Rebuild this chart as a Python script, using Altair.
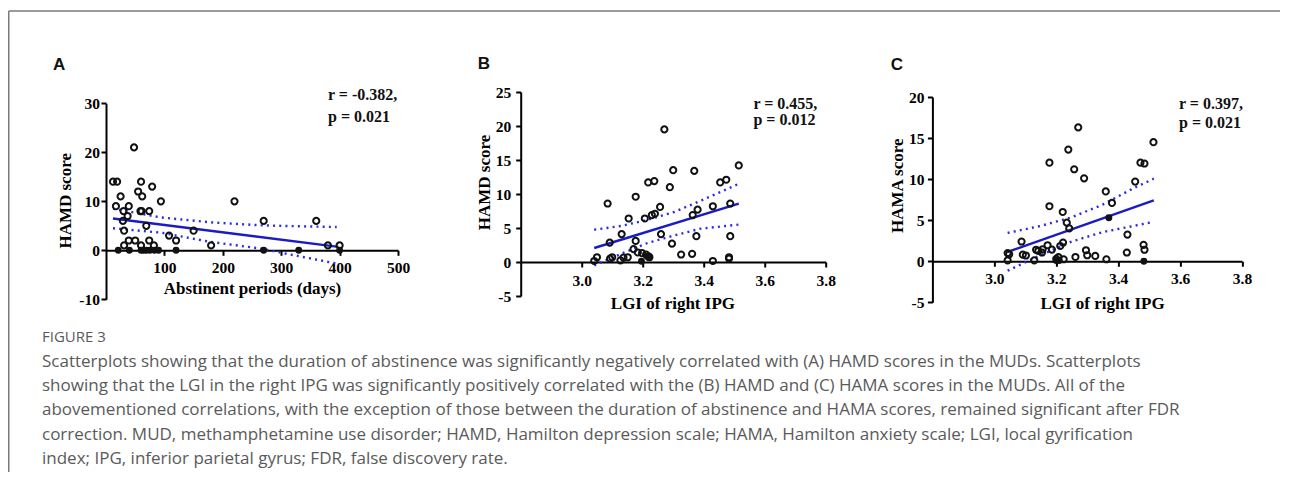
import altair as alt
import pandas as pd

SERIF = "Liberation Serif"
SANS = "Liberation Sans"
CAP_FONT = "Open Sans"

# ---------------- Panel A : abstinent periods vs HAMD ----------------
a_open_x = [12, 19, 17, 25, 30, 29, 31, 31, 37, 39, 39, 50, 48, 55, 60, 62, 59, 61, 69, 60,
            74, 74, 79, 82, 94, 108, 120, 150, 180, 220, 270, 360, 380, 400]
a_open_y = [14, 14, 9, 11, 8, 6, 4, 1, 7, 9, 2, 2, 21, 12, 14, 11, 8, 8, 5, 1,
            8, 2, 13, 1, 10, 3, 2, 4, 1, 10, 6, 6, 1, 1]
a_solid_x = [21, 40, 60, 64, 69, 75, 83, 90, 120, 270, 330, 400]
a_solid_y = [0, 0, 0, 0, 0, 0, 0, 0, 0, 0, 0, 0]
a_fit_x = [12, 398]
a_fit_y = [6.5, 0.7]
a_ci_x = [12, 94, 180, 265, 330, 395]
a_ci_up = [8.5, 6.7, 5.7, 5.1, 4.9, 4.75]
a_ci_lo = [4.5, 3.6, 1.7, 0.35, -1.2, -2.7]

# ---------------- Panel B : LGI of right IPG vs HAMD ----------------
b_open_x = [3.041, 3.050, 3.085, 3.092, 3.093, 3.100, 3.127, 3.131, 3.137, 3.151,
            3.154, 3.170, 3.177, 3.177, 3.184, 3.198, 3.207, 3.211, 3.218, 3.218,
            3.222, 3.230, 3.238, 3.240, 3.257, 3.260, 3.271, 3.289, 3.296, 3.300,
            3.326, 3.362, 3.364, 3.369, 3.376, 3.380, 3.430, 3.430, 3.454, 3.474,
            3.483, 3.483, 3.487, 3.487, 3.515]
b_open_y = [0.15, 0.7, 8.6, 2.85, 0.5, 0.7, 0.25, 4.1, 0.65, 0.7,
            6.4, 1.9, 9.6, 3.1, 1.4, 1.3, 6.4, 1.1, 11.7, 0.8,
            0.7, 6.9, 11.9, 7.1, 8.1, 4.1, 19.5, 11.0, 2.7, 13.5,
            1.1, 1.2, 6.9, 13.4, 3.8, 7.7, 8.2, 0.15, 11.7, 12.1,
            0.7, 0.5, 8.6, 3.8, 14.2]
b_solid_x = [3.196, 3.220]
b_solid_y = [0.1, 0.9]
b_fit_x = [3.041, 3.515]
b_fit_y = [2.06, 8.58]
b_ci_x = [3.041, 3.129, 3.216, 3.303, 3.390, 3.515]
b_ci_up = [4.75, 5.3, 6.2, 7.35, 9.0, 11.5]
b_ci_lo = [-0.5, 1.2, 2.8, 3.9, 4.9, 5.5]

# ---------------- Panel C : LGI of right IPG vs HAMA ----------------
c_open_x = [3.043, 3.043, 3.048, 3.088, 3.092, 3.102, 3.129, 3.135, 3.142, 3.154,
            3.156, 3.172, 3.178, 3.178, 3.186, 3.200, 3.207, 3.213, 3.221, 3.222,
            3.224, 3.234, 3.239, 3.242, 3.258, 3.262, 3.271, 3.290, 3.296, 3.300,
            3.326, 3.360, 3.362, 3.380, 3.428, 3.430, 3.455, 3.472, 3.482, 3.485,
            3.485, 3.514]
c_open_y = [1.0, 0.1, 0.85, 2.4, 0.8, 0.7, 0.1, 1.4, 1.25, 1.06,
            1.46, 1.95, 12.0, 6.7, 1.42, 0.3, 0.5, 1.86, 6.0, 2.28,
            0.24, 4.7, 13.6, 4.0, 11.2, 0.52, 16.3, 10.1, 1.34, 0.73,
            0.65, 8.5, 0.24, 7.1, 1.06, 3.25, 9.7, 12.0, 2.0, 1.4,
            11.9, 14.5]
c_solid_x = [3.200, 3.210, 3.370, 3.483]
c_solid_y = [0.1, 0.1, 5.3, 0.0]
c_fit_x = [3.043, 3.515]
c_fit_y = [1.13, 7.42]
c_ci_x = [3.043, 3.150, 3.250, 3.350, 3.450, 3.515]
c_ci_up = [3.45, 4.3, 5.35, 6.9, 8.9, 10.05]
c_ci_lo = [-1.15, 0.75, 2.4, 3.55, 4.3, 4.8]

caption_head = "FIGURE 3"
caption_lines = [
    "Scatterplots showing that the duration of abstinence was significantly negatively correlated with (A) HAMD scores in the MUDs. Scatterplots",
    "showing that the LGI in the right IPG was significantly positively correlated with the (B) HAMD and (C) HAMA scores in the MUDs. All of the",
    "abovementioned correlations, with the exception of those between the duration of abstinence and HAMA scores, remained significant after FDR",
    "correction. MUD, methamphetamine use disorder; HAMD, Hamilton depression scale; HAMA, Hamilton anxiety scale; LGI, local gyrification",
    "index; IPG, inferior parietal gyrus; FDR, false discovery rate.",
]

assert len(a_open_x) == len(a_open_y)
assert len(b_open_x) == len(b_open_y)
assert len(c_open_x) == len(c_open_y)

H = 211
LINE_BLUE = "#1b1bc4"
DOT_BLUE = "#2a2ae8"


def one_row(**kw):
    return pd.DataFrame({k: [v] for k, v in kw.items()})


def make_panel(open_x, open_y, solid_x, solid_y, fit_x, fit_y, ci_x, ci_up, ci_lo,
               xdom, xrange, xticks, xlabexpr, ydom, yrange, yticks, width,
               xtitle, ytitle, xlab_pad, ylab_pad, xtitle_x, xtitle_y, ytitle_x, ytitle_y,
               letter, letter_xy, stats, stats_xy, stats_lh, extra=()):
    y0 = yrange[0] + (0 - ydom[0]) / (ydom[1] - ydom[0]) * (yrange[1] - yrange[0])
    x_offset = y0 - H
    xenc = alt.X("x:Q",
                 scale=alt.Scale(domain=xdom, range=xrange, nice=False, zero=False),
                 axis=alt.Axis(values=xticks, labelExpr=xlabexpr, offset=x_offset,
                               title=xtitle, titleX=xtitle_x, titleY=xtitle_y,
                               titleAlign="center", titleBaseline="alphabetic", titleAngle=0,
                               labelBaseline="alphabetic", labelPadding=xlab_pad,
                               labelFlush=False, labelOverlap=False, grid=False))
    yenc = alt.Y("y:Q",
                 scale=alt.Scale(domain=ydom, range=yrange, nice=False, zero=False),
                 axis=alt.Axis(values=yticks, labelExpr="'' + datum.value",
                               title=ytitle, titleX=ytitle_x, titleY=ytitle_y,
                               titleAngle=270, titleAlign="center", titleBaseline="alphabetic",
                               labelPadding=ylab_pad, labelFlush=False, labelOverlap=False,
                               grid=False))

    ci_df = pd.concat([
        pd.DataFrame({"x": ci_x, "y": ci_up, "band": "upper"}),
        pd.DataFrame({"x": ci_x, "y": ci_lo, "band": "lower"}),
    ])
    ci = alt.Chart(ci_df).mark_line(color=DOT_BLUE, strokeWidth=2.4, strokeDash=[2, 4.2],
                                    strokeCap="butt").encode(x=xenc, y=yenc, detail="band:N")
    fit = alt.Chart(pd.DataFrame({"x": fit_x, "y": fit_y})).mark_line(
        color=LINE_BLUE, strokeWidth=2.4).encode(x=xenc, y=yenc)
    opn = alt.Chart(pd.DataFrame({"x": open_x, "y": open_y})).mark_point(
        shape="circle", filled=False, color="#111", size=38, strokeWidth=2.0, opacity=1
    ).encode(x=xenc, y=yenc)
    sld = alt.Chart(pd.DataFrame({"x": solid_x, "y": solid_y})).mark_point(
        shape="circle", filled=True, color="#111", size=48, opacity=1
    ).encode(x=xenc, y=yenc)
    let = alt.Chart(one_row(t=letter)).mark_text(
        font=SANS, fontSize=17, fontWeight="bold", align="left", baseline="alphabetic",
        color="#111").encode(text="t:N", x=alt.value(letter_xy[0]), y=alt.value(letter_xy[1]))
    st = alt.Chart(one_row(t=stats)).mark_text(
        font=SERIF, fontSize=16, fontWeight="bold", align="left", baseline="alphabetic",
        lineBreak="\n", lineHeight=stats_lh, color="#111"
    ).encode(text="t:N", x=alt.value(stats_xy[0]), y=alt.value(stats_xy[1]))
    return alt.layer(ci, fit, opn, sld, let, st, *extra).properties(width=width, height=H)


# decorations living in panel A's coordinate frame (frame lines + caption)
frame_v = alt.Chart(one_row(a=0)).mark_rule(color="#7a7a7a", strokeWidth=1.5).encode(
    x=alt.value(-97.25), y=alt.value(-80.95), y2=alt.value(380))
frame_h = alt.Chart(one_row(a=0)).mark_rule(color="#7a7a7a", strokeWidth=1.5).encode(
    x=alt.value(-97.25), x2=alt.value(1174), y=alt.value(-80.95))
cap_head = alt.Chart(one_row(t=caption_head)).mark_text(
    font=CAP_FONT, fontSize=15, align="left", baseline="alphabetic", color="#5a5a5a"
).encode(text="t:N", x=alt.value(-64), y=alt.value(249.5))
cap_body = alt.Chart(one_row(t="\n".join(caption_lines))).mark_text(
    font=CAP_FONT, fontSize=17, align="left", baseline="alphabetic", color="#5a5a5a",
    lineBreak="\n", lineHeight=24.4
).encode(text="t:N", x=alt.value(-64), y=alt.value(274.5))

panel_a = make_panel(
    a_open_x, a_open_y, a_solid_x, a_solid_y, a_fit_x, a_fit_y, a_ci_x, a_ci_up, a_ci_lo,
    xdom=[0, 500], xrange=[0, 292], xticks=[100, 200, 300, 400, 500],
    xlabexpr="'' + datum.value",
    ydom=[-10, 30], yrange=[207.3, 11.3], yticks=[-10, 0, 10, 20, 30], width=307.3,
    xtitle="Abstinent periods (days)", ytitle="HAMD score",
    xlab_pad=16.7, ylab_pad=1.5, xtitle_x=146, xtitle_y=43.3, ytitle_x=-36, ytitle_y=108.3,
    letter="A", letter_xy=(-53, -21.7), stats="r = -0.382,\np = 0.021",
    stats_xy=(222, 7.6), stats_lh=22.4,
    extra=(frame_v, frame_h, cap_head, cap_body))

panel_b = make_panel(
    b_open_x, b_open_y, b_solid_x, b_solid_y, b_fit_x, b_fit_y, b_ci_x, b_ci_up, b_ci_lo,
    xdom=[2.8, 3.8], xrange=[0, 305], xticks=[3.0, 3.2, 3.4, 3.6, 3.8],
    xlabexpr="format(datum.value, '.1f')",
    ydom=[-5, 25], yrange=[204, 0], yticks=[-5, 0, 5, 10, 15, 20, 25], width=305,
    xtitle="LGI of right IPG", ytitle="HAMD score",
    xlab_pad=18.3, ylab_pad=5, xtitle_x=151.7, xtitle_y=46.6, ytitle_x=-31.7, ytitle_y=90,
    letter="B", letter_xy=(-43, -22.7), stats="r = 0.455,\np = 0.012",
    stats_xy=(232.7, 16.6), stats_lh=16.7)

panel_c = make_panel(
    c_open_x, c_open_y, c_solid_x, c_solid_y, c_fit_x, c_fit_y, c_ci_x, c_ci_up, c_ci_lo,
    xdom=[2.8, 3.8], xrange=[0, 309.6], xticks=[3.0, 3.2, 3.4, 3.6, 3.8],
    xlabexpr="format(datum.value, '.1f')",
    ydom=[-5, 20], yrange=[210.3, 5], yticks=[-5, 0, 5, 10, 15, 20], width=310,
    xtitle="LGI of  right IPG", ytitle="HAMA score",
    xlab_pad=17.3, ylab_pad=3.4, xtitle_x=169.6, xtitle_y=47.3, ytitle_x=-30, ytitle_y=93.3,
    letter="C", letter_xy=(-41.7, -21.7), stats="r = 0.397,\np = 0.021",
    stats_xy=(246.6, 17.3), stats_lh=18.7)

chart = alt.hconcat(panel_a, panel_b, panel_c, spacing=106.7, bounds="flush").properties(
    padding={"left": 0, "top": 2, "right": 0, "bottom": 0},
    background="white",
).configure_view(stroke=None).configure_axis(
    domainColor="black", domainWidth=2, tickColor="black", tickWidth=2, tickSize=5,
    labelFont=SERIF, labelFontSize=15.5, labelFontWeight="bold", labelColor="black",
    titleFont=SERIF, titleFontSize=17, titleFontWeight="bold", titleColor="black",
    grid=False,
)

chart.save("out.html", embed_options={"renderer": "svg", "actions": False})
